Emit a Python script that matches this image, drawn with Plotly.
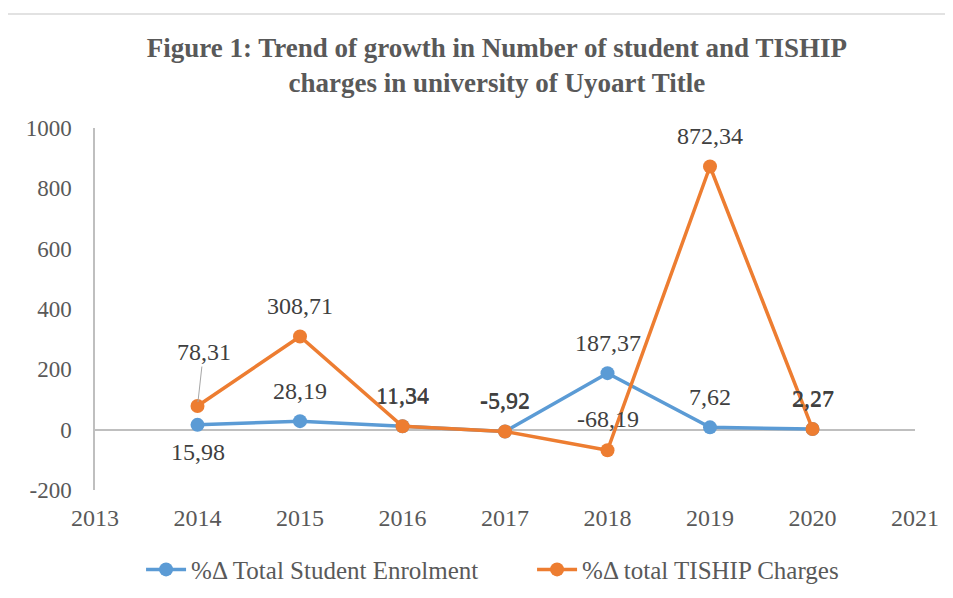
import plotly.graph_objects as go

years = [2014, 2015, 2016, 2017, 2018, 2019, 2020]
student = [15.98, 28.19, 11.34, -5.92, 187.37, 7.62, 2.27]
tiship = [78.31, 308.71, 11.34, -5.92, -68.19, 872.34, 2.27]
x_ticks = [2013, 2014, 2015, 2016, 2017, 2018, 2019, 2020, 2021]
y_ticks = [-200, 0, 200, 400, 600, 800, 1000]

BLUE = "#5B9BD5"
ORANGE = "#ED7D31"
FONT = "Liberation Serif, Times New Roman, serif"
LBL = dict(family=FONT, size=24, color="#404040")

def fmt(v):
    return f"{v:.2f}".replace(".", ",")

fig = go.Figure()
fig.add_trace(go.Scatter(x=years, y=student, mode="lines+markers",
                         name="%Δ Total Student Enrolment",
                         line=dict(color=BLUE, width=3.5),
                         marker=dict(color=BLUE, size=14)))
fig.add_trace(go.Scatter(x=years, y=tiship, mode="lines+markers",
                         name="%Δ total TISHIP Charges",
                         line=dict(color=ORANGE, width=3.5),
                         marker=dict(color=ORANGE, size=14)))

ann = []
for i, (x, v) in enumerate(zip(years, student)):
    ann.append(dict(x=x, y=v, text=fmt(v), showarrow=False,
                    yshift=-27 if i == 0 else 30, font=LBL))
for i, (x, v) in enumerate(zip(years, tiship)):
    if i == 0:
        ann.append(dict(x=x, y=v, text=fmt(v), showarrow=True, arrowhead=0,
                        arrowwidth=1, arrowcolor="#a6a6a6", ax=6, ay=-54,
                        standoff=4, font=LBL))
    else:
        ann.append(dict(x=x, y=v, text=fmt(v), showarrow=False, yshift=31, font=LBL))

fig.update_layout(
    width=953, height=598,
    margin=dict(l=87, r=46, t=120, b=116, autoexpand=False),
    paper_bgcolor="white", plot_bgcolor="white",
    font=dict(family=FONT, size=24, color="#595959"),
    title=dict(text="<b>Figure 1: Trend of growth in Number of student and TISHIP<br>charges in university of Uyoart Title</b>",
               x=0.513, xanchor="center", y=0.918, yanchor="middle",
               font=dict(family=FONT, size=27, color="#595959")),
    xaxis=dict(range=[2013, 2021], tickvals=x_ticks, ticktext=[str(t) for t in x_ticks],
               showgrid=False, zeroline=False, showline=False, ticks="",
               ticklabelstandoff=11, automargin=False,
               tickfont=dict(family=FONT, size=24, color="#595959")),
    yaxis=dict(range=[-200, 1000], tickvals=y_ticks, ticktext=[str(t) for t in y_ticks],
               showgrid=False, zeroline=True, zerolinecolor="#bfbfbf", zerolinewidth=1.5,
               showline=True, linecolor="#bfbfbf", linewidth=1.5, ticks="",
               ticklabelstandoff=17, automargin=False,
               tickfont=dict(family=FONT, size=23, color="#595959")),
    legend=dict(orientation="h", x=0.533, xanchor="center", y=-0.22, yanchor="middle",
                font=dict(family=FONT, size=25, color="#595959"),
                itemwidth=40, tracegroupgap=0, entrywidth=336),
    annotations=ann,
    showlegend=True,
)
fig.add_shape(type="rect", xref="paper", yref="paper",
              x0=-0.1098, x1=1.1, y0=-0.4, y1=1.315,
              line=dict(color="#d9d9d9", width=1.5), fillcolor="rgba(0,0,0,0)", layer="below")

fig.write_html("out.html")
